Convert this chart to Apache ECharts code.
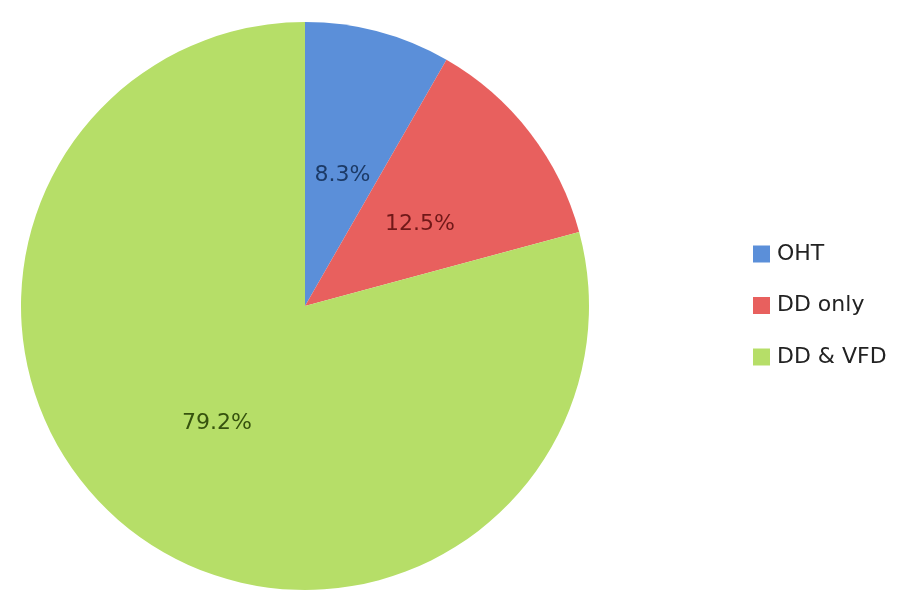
<!DOCTYPE html>
<html><head><meta charset="utf-8">
<script src="https://cdn.jsdelivr.net/npm/echarts@6/dist/echarts.min.js"></script>
<style>html,body{margin:0;padding:0;background:#fff}#c{width:900px;height:612px}</style>
</head><body><div id="c"></div>
<script>
const categories = ['OHT', 'DD only', 'DD & VFD'];
const values = [8.3, 12.5, 79.2];
const colors = ['#5b8fd9', '#e8605e', '#b6de68'];
const labelColors = ['#1c3a66', '#701818', '#36520e'];
const labelOffsets = [[0, 9], [0, 7], [0, 2]];

const chart = echarts.init(document.getElementById('c'));
chart.setOption({
  animation: false,
  legend: {
    orient: 'vertical',
    left: 753, top: 243,
    padding: 0,
    itemWidth: 17, itemHeight: 17,
    itemGap: 29.5,
    icon: 'rect',
    textStyle: { fontFamily: '"DejaVu Sans", sans-serif', fontSize: 22, color: '#222', padding: [0,0,0,2] },
    data: categories
  },
  series: [{
    type: 'pie',
    center: [305, 306],
    radius: [0, 284],
    startAngle: 90,
    clockwise: true,
    label: {
      show: true, position: 'inside',
      fontFamily: '"DejaVu Sans", sans-serif', fontSize: 22,
      formatter: p => p.value.toFixed(1) + '%'
    },
    labelLine: { show: false },
    itemStyle: { borderWidth: 0 },
    data: categories.map((c, i) => ({
      name: c, value: values[i],
      itemStyle: { color: colors[i] },
      label: { color: labelColors[i], offset: labelOffsets[i] }
    }))
  }]
});
</script></body></html>
